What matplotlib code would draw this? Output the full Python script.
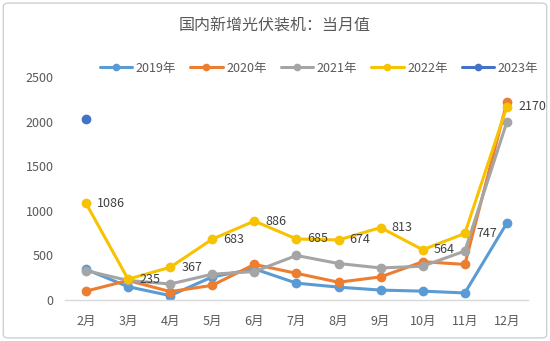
import matplotlib
matplotlib.use("Agg")
import matplotlib.pyplot as plt
from matplotlib.patches import FancyBboxPatch
import numpy as np

plt.rcParams['font.family'] = ['Noto Sans CJK SC', 'DejaVu Sans']

months = ["2月", "3月", "4月", "5月", "6月", "7月", "8月", "9月", "10月", "11月", "12月"]
s2019 = [345, 150, 50, 260, 350, 190, 145, 112, 100, 80, 865]
s2020 = [100, 220, 95, 165, 400, 300, 200, 260, 430, 400, 2220]
s2021 = [330, 220, 180, 290, 320, 500, 410, 360, 380, 550, 2000]
s2022 = [1086, 235, 367, 683, 886, 685, 674, 813, 564, 747, 2170]
s2023 = [2030]
labels_2022 = ["1086", "235", "367", "683", "886", "685", "674", "813", "564", "747", "2170"]

series = [("2019年", s2019, "#5B9BD5"), ("2020年", s2020, "#ED7D31"),
          ("2021年", s2021, "#A5A5A5"), ("2022年", s2022, "#F7C200"),
          ("2023年", s2023, "#4472C4")]

fig = plt.figure(figsize=(5.5, 3.41), dpi=100)
ax = fig.add_axes([0.118, 0.12, 0.842, 0.654])

x = np.arange(len(months))
for name, vals, col in series:
    ax.plot(x[:len(vals)], vals, color=col, lw=2.2, marker='o', ms=6,
            label=name, solid_capstyle='round')

for xi, v, t in zip(x, s2022, labels_2022):
    ax.annotate(t, (xi, v), xytext=(8, 0), textcoords='offset points',
                ha='left', va='center', fontsize=9, color='#404040')

ax.set_xlim(-0.5, len(months) - 0.5)
ax.set_ylim(0, 2500)
ax.set_yticks(range(0, 2501, 500))
ax.set_xticks(x)
ax.set_xticklabels(months)
for s in ['top', 'right', 'left']:
    ax.spines[s].set_visible(False)
ax.spines['bottom'].set_color('#D9D9D9')
ax.spines['bottom'].set_linewidth(1)
ax.tick_params(axis='both', length=0, labelsize=9, colors='#595959')
ax.tick_params(axis='x', pad=11)
ax.tick_params(axis='y', pad=8)

fig.text(0.5, 0.922, "国内新增光伏装机：当月值", ha='center', va='center',
         fontsize=11.5, color='#595959')
fig.legend(loc='center', bbox_to_anchor=(0.58, 0.80), ncol=5, frameon=False,
           fontsize=9, handlelength=2.6, columnspacing=1.1, handletextpad=0.3,
           markerscale=0.75, labelcolor='#595959')

border = FancyBboxPatch((0.006, 0.009), 0.988, 0.982, boxstyle="round,pad=0,rounding_size=0.01",
                        transform=fig.transFigure, fill=False, edgecolor='#D0D0D0', lw=1)
fig.patches.append(border)

fig.savefig("out.png", dpi=100)
